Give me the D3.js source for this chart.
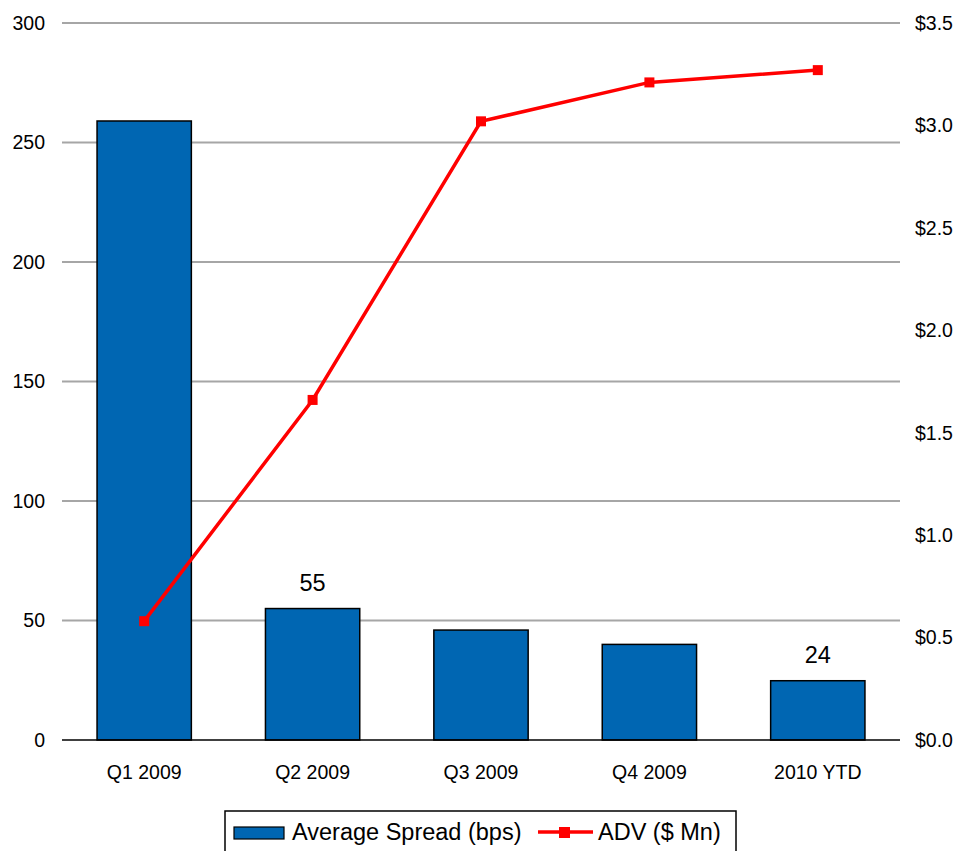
<!DOCTYPE html>
<html><head><meta charset="utf-8">
<script src="https://cdn.jsdelivr.net/npm/d3@7"></script>
<style>body{margin:0;background:#fff;}svg{display:block;font-family:"Liberation Sans",Arial,sans-serif;}</style>
</head><body><svg id="c" width="959" height="851"></svg>
<script>
const categories = ["Q1 2009","Q2 2009","Q3 2009","Q4 2009","2010 YTD"];
const spread = [259, 55, 46, 40, 24.8];
const spreadLabels = ["", "55", "", "", "24"];
const adv = [0.58, 1.66, 3.02, 3.21, 3.27];
const leftTicks = [0,50,100,150,200,250,300];
const rightTicks = [0,0.5,1.0,1.5,2.0,2.5,3.0,3.5];

const svg = d3.select("#c");
const L = 62, R = 900, T = 23, B = 740;
const x = d3.scaleBand().domain(categories).range([L-2, R+2]).paddingInner(0.44).paddingOuter(0.22);
const y = d3.scaleLinear().domain([0,300]).range([B,T]);
const y2 = d3.scaleLinear().domain([0,3.5]).range([B,T]);

// gridlines
svg.append("g").selectAll("line").data(leftTicks.filter(d=>d>0)).join("line")
  .attr("x1",L).attr("x2",R).attr("y1",d=>y(d)).attr("y2",d=>y(d))
  .attr("stroke","#a6a6a6").attr("stroke-width",2);

// left tick labels
svg.append("g").selectAll("text").data(leftTicks).join("text")
  .attr("x",45).attr("y",d=>y(d)).attr("dy","0.35em").attr("text-anchor","end")
  .attr("font-size",19.5).attr("fill","#000").text(d=>d);
// right tick labels
svg.append("g").selectAll("text").data(rightTicks).join("text")
  .attr("x",915).attr("y",d=>y2(d)).attr("dy","0.35em").attr("text-anchor","start")
  .attr("font-size",19.5).attr("fill","#000").text(d=>"$"+d.toFixed(1));

// bars
svg.append("g").selectAll("rect").data(spread).join("rect")
  .attr("x",(d,i)=>x(categories[i])).attr("width",x.bandwidth())
  .attr("y",d=>y(d)).attr("height",d=>B-y(d))
  .attr("fill","#0066B2").attr("stroke","#000").attr("stroke-width",1.5);

// baseline
svg.append("line").attr("x1",L).attr("x2",R).attr("y1",B).attr("y2",B).attr("stroke","#000").attr("stroke-width",1.5);

// category labels
svg.append("g").selectAll("text").data(categories).join("text")
  .attr("x",d=>x(d)+x.bandwidth()/2).attr("y",772).attr("dy","0.35em").attr("text-anchor","middle")
  .attr("font-size",19.5).text(d=>d);

// data labels
svg.append("g").selectAll("text").data(spread).join("text")
  .attr("x",(d,i)=>x(categories[i])+x.bandwidth()/2).attr("y",d=>y(d)-26).attr("dy","0.35em")
  .attr("text-anchor","middle").attr("font-size",23.5).text((d,i)=>spreadLabels[i]);

// line
const line = d3.line().x((d,i)=>x(categories[i])+x.bandwidth()/2).y(d=>y2(d));
svg.append("path").datum(adv).attr("d",line).attr("fill","none").attr("stroke","#FF0000").attr("stroke-width",3.5);
svg.append("g").selectAll("rect").data(adv).join("rect")
  .attr("x",(d,i)=>x(categories[i])+x.bandwidth()/2-5).attr("y",d=>y2(d)-5)
  .attr("width",10).attr("height",10).attr("fill","#FF0000");

// legend
const lg = svg.append("g");
lg.append("rect").attr("x",225).attr("y",811).attr("width",511).attr("height",50).attr("fill","#fff").attr("stroke","#000").attr("stroke-width",1.5);
lg.append("rect").attr("x",234).attr("y",827).attr("width",50).attr("height",12).attr("fill","#0066B2").attr("stroke","#000").attr("stroke-width",1.2);
lg.append("text").attr("x",292).attr("y",832).attr("dy","0.35em").attr("font-size",23.5).text("Average Spread (bps)");
lg.append("line").attr("x1",538).attr("x2",593).attr("y1",832).attr("y2",832).attr("stroke","#FF0000").attr("stroke-width",3.5);
lg.append("rect").attr("x",559).attr("y",827).attr("width",11).attr("height",11).attr("fill","#FF0000");
lg.append("text").attr("x",598).attr("y",832).attr("dy","0.35em").attr("font-size",23.5).text("ADV ($ Mn)");
</script></body></html>
